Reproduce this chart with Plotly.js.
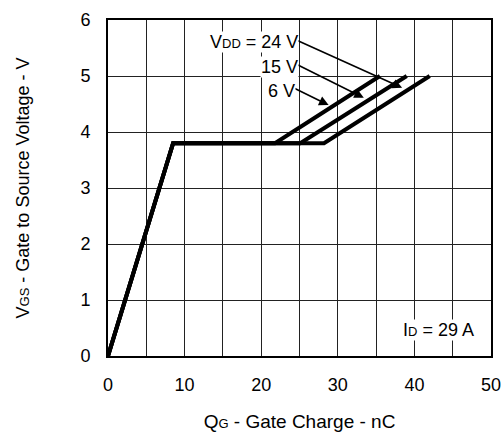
<!DOCTYPE html>
<html><head><meta charset="utf-8">
<script src="https://cdn.plot.ly/plotly-3.0.1.min.js"></script>
<style>html,body{margin:0;padding:0;background:#fff}</style>
</head><body><div id="chart" style="width:504px;height:434px"></div>
<script>
// Gate charge curves (Qg in nC, Vgs in V)
const seriesNames = ["6 V", "15 V", "24 V"];
const qg6 = [0, 8.5, 21.8, 35.5];
const vgs6 = [0, 3.8, 3.8, 5.0];
const qg15 = [0, 8.5, 25.1, 39.0];
const vgs15 = [0, 3.8, 3.8, 5.0];
const qg24 = [0, 8.5, 28.2, 42.0];
const vgs24 = [0, 3.8, 3.8, 5.0];
const xTicks = [0, 10, 20, 30, 40, 50];
const xMinorTicks = [5, 15, 25, 35, 45];
const yTicks = [0, 1, 2, 3, 4, 5, 6];

const lineStyle = {color: '#000', width: 4};
const traces = [
  {x: qg6, y: vgs6, name: seriesNames[0]},
  {x: qg15, y: vgs15, name: seriesNames[1]},
  {x: qg24, y: vgs24, name: seriesNames[2]}
].map(t => Object.assign(t, {type: 'scatter', mode: 'lines', line: lineStyle, hoverinfo: 'skip'}));

const FS = 18;
const sub = (s, px) => '<span style="font-size:' + px + 'px">' + s + '</span>';
const font = {family: 'Liberation Sans, Arial, sans-serif', size: FS, color: '#000'};
const arrow = (x, y, ax, ay) => ({x, y, ax, ay, xref: 'x', yref: 'y', axref: 'x', ayref: 'y',
  text: '', showarrow: true, arrowhead: 2, arrowsize: 1.2, arrowwidth: 1.6, arrowcolor: '#000'});
const label = (x, y, text) => ({x, y, xref: 'x', yref: 'y', text, showarrow: false,
  xanchor: 'right', yanchor: 'middle', bgcolor: '#fff', borderpad: 0, font});

const layout = {
  width: 504, height: 434,
  margin: {l: 108, r: 13, t: 20, b: 78},
  paper_bgcolor: '#fff', plot_bgcolor: '#fff',
  showlegend: false,
  font: font,
  xaxis: {
    range: [0, 50], tickmode: 'array', tickvals: xTicks, ticktext: xTicks.map(String),
    showgrid: true, gridcolor: '#222', gridwidth: 1,
    minor: {tickmode: 'array', tickvals: xMinorTicks, showgrid: true, gridcolor: '#222', gridwidth: 1, ticks: ''},
    zeroline: false, showline: true, mirror: true, linecolor: '#000', linewidth: 2,
    ticks: 'outside', ticklen: 11, tickcolor: 'rgba(0,0,0,0)',
    tickfont: {size: FS},
    title: {text: 'Q' + sub('G', 13) + ' - Gate Charge - nC', font: {size: 19}, standoff: 21},
    fixedrange: true
  },
  yaxis: {
    range: [0, 6], tickvals: yTicks, showgrid: true, gridcolor: '#222', gridwidth: 1,
    zeroline: false, showline: true, mirror: true, linecolor: '#000', linewidth: 2,
    ticks: 'outside', ticklen: 12, tickcolor: 'rgba(0,0,0,0)',
    tickfont: {size: FS},
    title: {text: 'V' + sub('GS', 13) + ' - Gate to Source Voltage - V', font: {size: 18}, standoff: 46},
    fixedrange: true
  },
  annotations: [
    arrow(38.4, 4.79, 24.6, 5.64),
    arrow(33.4, 4.61, 24.6, 5.21),
    arrow(28.8, 4.48, 24.2, 4.79),
    label(24.9, 5.6, 'V' + sub('DD', 13) + ' = 24 V'),
    label(24.9, 5.16, '15 V'),
    label(24.5, 4.73, '6 V'),
    {x: 43.1, y: 0.46, xref: 'x', yref: 'y', text: 'I' + sub('D', 13) + ' = 29 A', showarrow: false,
     bgcolor: '#fff', borderpad: 0, font}
  ]
};
Plotly.newPlot('chart', traces, layout, {displayModeBar: false, staticPlot: true});
</script></body></html>
